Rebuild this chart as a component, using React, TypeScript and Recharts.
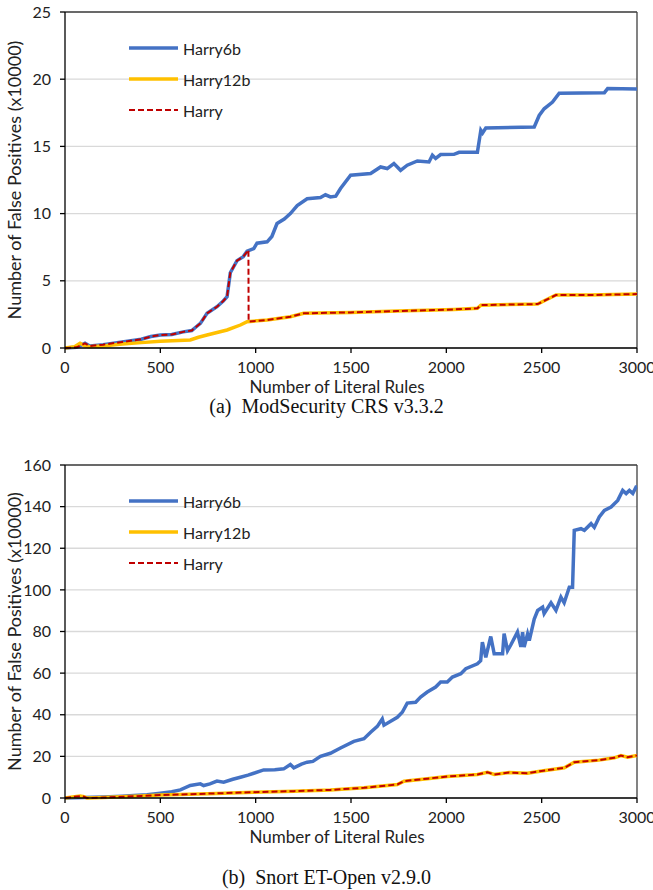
import React from 'react';
import { LineChart, Line, XAxis, YAxis, CartesianGrid, ReferenceLine } from 'recharts';

// x: number of literal rules, y: false positives (x10000)
const ruleTicks = [0, 500, 1000, 1500, 2000, 2500, 3000];

// (a) ModSecurity CRS v3.3.2
const modTicks = [0, 5, 10, 15, 20, 25];
const mod6bX = [0, 60, 105, 130, 200, 300, 400, 450, 500, 560, 620, 665, 690, 710, 745, 797, 830, 850, 867, 902, 935, 955, 990, 1007, 1060, 1085, 1112, 1150, 1182, 1218, 1270, 1340, 1366, 1392, 1420, 1445, 1498, 1603, 1655, 1690, 1725, 1760, 1795, 1848, 1909, 1927, 1944, 1970, 2040, 2067, 2163, 2181, 2190, 2207, 2461, 2487, 2513, 2557, 2592, 2829, 2846, 3000];
const mod6bY = [0, 0.05, 0.35, 0.15, 0.25, 0.45, 0.65, 0.85, 0.97, 1.0, 1.2, 1.3, 1.6, 1.83, 2.58, 3.07, 3.5, 3.81, 5.6, 6.5, 6.8, 7.2, 7.4, 7.8, 7.9, 8.3, 9.26, 9.6, 10.0, 10.6, 11.1, 11.2, 11.4, 11.24, 11.3, 11.87, 12.85, 12.98, 13.47, 13.35, 13.72, 13.22, 13.6, 13.92, 13.84, 14.34, 14.1, 14.39, 14.41, 14.56, 14.56, 16.2, 16.0, 16.37, 16.44, 17.3, 17.8, 18.3, 18.95, 19.0, 19.3, 19.27];
const mod12bX = [0, 50, 79, 100, 123, 200, 300, 400, 500, 657, 700, 745, 850, 920, 955, 1060, 1182, 1252, 1498, 1743, 2040, 2163, 2181, 2479, 2575, 2750, 3000];
const mod12bY = [0, 0.1, 0.35, 0.2, 0.1, 0.15, 0.3, 0.4, 0.5, 0.6, 0.8, 0.97, 1.34, 1.71, 1.96, 2.08, 2.33, 2.58, 2.65, 2.75, 2.87, 2.95, 3.19, 3.27, 3.94, 3.94, 4.01];
const modHarryX = [0, 60, 105, 130, 200, 300, 400, 450, 500, 560, 620, 665, 690, 710, 745, 797, 830, 850, 867, 902, 935, 962, 963, 1060, 1182, 1252, 1498, 1743, 2040, 2163, 2181, 2479, 2575, 2750, 3000];
const modHarryY = [0, 0.05, 0.35, 0.15, 0.25, 0.45, 0.65, 0.85, 0.97, 1.0, 1.2, 1.3, 1.6, 1.83, 2.58, 3.07, 3.5, 3.81, 5.6, 6.5, 6.8, 7.3, 1.96, 2.08, 2.33, 2.58, 2.65, 2.75, 2.87, 2.95, 3.19, 3.27, 3.94, 3.94, 4.01];

// (b) Snort ET-Open v2.9.0
const snortTicks = [0, 20, 40, 60, 80, 100, 120, 140, 160];
const snort6bX = [0, 100, 200, 300, 360, 430, 500, 560, 605, 657, 710, 727, 760, 797, 832, 880, 920, 960, 990, 1042, 1100, 1147, 1182, 1200, 1240, 1270, 1300, 1340, 1392, 1445, 1515, 1568, 1603, 1638, 1664, 1673, 1743, 1769, 1795, 1839, 1865, 1900, 1944, 1970, 2005, 2032, 2076, 2102, 2163, 2180, 2189, 2207, 2233, 2251, 2295, 2303, 2321, 2338, 2373, 2391, 2400, 2408, 2426, 2435, 2461, 2479, 2505, 2513, 2549, 2575, 2601, 2618, 2645, 2662, 2671, 2706, 2724, 2759, 2776, 2802, 2829, 2864, 2899, 2925, 2943, 2960, 2978, 2995, 3000];
const snort6bY = [0, 0.3, 0.5, 0.9, 1.2, 1.6, 2.3, 3.0, 3.9, 6.0, 6.8, 6.0, 6.8, 8.1, 7.6, 9.0, 10, 11, 11.9, 13.5, 13.6, 14, 16.1, 14.5, 16.3, 17.2, 17.6, 20.0, 21.5, 24, 27.2, 28.5, 31.6, 34.4, 38, 35, 38.8, 41.2, 45.6, 46, 48.5, 50.9, 53.3, 55.7, 55.7, 58.1, 59.7, 62.1, 64.5, 66, 74.9, 67.6, 77.6, 69.3, 69.3, 79, 70.8, 73.5, 79.7, 72.6, 79.7, 72.5, 78.8, 75.6, 86, 90.1, 91.7, 88.6, 93.8, 90.1, 96.5, 93.8, 101.3, 101.3, 128.6, 129.4, 128.6, 131.8, 130, 135, 138.2, 139.8, 143, 147.8, 146.3, 147.8, 146.3, 149.4, 149.4];
const snort12bX = [0, 40, 79, 100, 115, 200, 300, 400, 500, 750, 990, 1200, 1392, 1568, 1743, 1778, 1900, 2005, 2163, 2216, 2251, 2330, 2426, 2500, 2619, 2671, 2800, 2881, 2916, 2951, 3000];
const snort12bY = [0, 0.5, 0.9, 0.6, 0, 0.2, 0.6, 1.0, 1.4, 2.1, 2.8, 3.3, 3.9, 4.9, 6.5, 8.1, 9.3, 10.3, 11.3, 12.4, 11.3, 12.2, 11.9, 13.0, 14.5, 17.2, 18.2, 19.3, 20.4, 19.6, 20.4];
// Harry matches Harry12b on Snort
const snortHarryX = snort12bX;
const snortHarryY = snort12bY;

const zip = (xs: number[], ys: number[]) => xs.map((x, i) => ({ x, y: ys[i] }));

const BLUE = '#4472C4';
const YELLOW = '#FFC000';
const RED = '#C00000';
const SANS = 'Lato, "Open Sans", sans-serif';

const legendItems = [
  { name: 'Harry6b', color: BLUE, width: 3.5, dash: undefined },
  { name: 'Harry12b', color: YELLOW, width: 3.5, dash: undefined },
  { name: 'Harry', color: RED, width: 2, dash: '6 3' },
];

const LegendBox = () => (
  <div style={{ position: 'absolute', left: 129, top: 32.5, fontFamily: SANS, fontSize: 16, color: '#222' }}>
    {legendItems.map((item) => (
      <div key={item.name} style={{ display: 'flex', alignItems: 'center', height: 31 }}>
        <svg width={54} height={10} style={{ display: 'block' }}>
          <line x1={0} x2={49} y1={5} y2={5} stroke={item.color} strokeWidth={item.width} strokeDasharray={item.dash} />
        </svg>
        <span>{item.name}</span>
      </div>
    ))}
  </div>
);

interface PanelProps {
  top: number;
  height: number;
  yMax: number;
  yTicks: number[];
  d6b: { x: number; y: number }[];
  d12b: { x: number; y: number }[];
  dHarry: { x: number; y: number }[];
  caption: string;
  captionTop: number;
}

const Panel: React.FC<PanelProps> = ({ top, height, yMax, yTicks, d6b, d12b, dHarry, caption, captionTop }) => (
  <>
    <div style={{ position: 'absolute', left: 0, top, width: 653, height }}>
      <LineChart width={653} height={height} margin={{ top: 12, right: 16, left: 0, bottom: 0 }}>
        <CartesianGrid vertical={false} stroke="#d9d9d9" strokeWidth={1.3} />
        <XAxis
          dataKey="x"
          type="number"
          domain={[0, 3000]}
          ticks={ruleTicks}
          allowDuplicatedCategory={false}
          height={52}
          stroke="#000"
          strokeWidth={1.3}
          tickSize={5}
          tickMargin={9}
          tick={{ fill: '#222', fontSize: 16, fontFamily: SANS }}
          label={{ value: 'Number of Literal Rules', position: 'insideBottom', offset: 7, dx: -14, fill: '#222', fontSize: 17, fontFamily: SANS }}
        />
        <YAxis
          type="number"
          domain={[0, yMax]}
          ticks={yTicks}
          width={65}
          stroke="#000"
          strokeWidth={1.3}
          tickSize={5}
          tickMargin={9}
          tick={{ fill: '#222', fontSize: 16, fontFamily: SANS }}
          label={{ value: 'Number of False Positives (x10000)', angle: -90, position: 'insideLeft', offset: 15, style: { textAnchor: 'middle' }, fill: '#222', fontSize: 18, fontFamily: SANS }}
        />
        <ReferenceLine y={yMax} stroke="#404040" strokeWidth={1.3} />
        <ReferenceLine x={3000} stroke="#404040" strokeWidth={1.3} />
        <Line data={d6b} dataKey="y" name="Harry6b" type="linear" stroke={BLUE} strokeWidth={3.5} dot={false} isAnimationActive={false} />
        <Line data={d12b} dataKey="y" name="Harry12b" type="linear" stroke={YELLOW} strokeWidth={3.5} dot={false} isAnimationActive={false} />
        <Line data={dHarry} dataKey="y" name="Harry" type="linear" stroke={RED} strokeWidth={2} strokeDasharray="6 3" dot={false} isAnimationActive={false} />
      </LineChart>
      <LegendBox />
    </div>
    <div
      style={{
        position: 'absolute',
        left: 0,
        width: 653,
        top: captionTop,
        textAlign: 'center',
        fontFamily: '"Liberation Serif", "Times New Roman", serif',
        fontSize: 20,
        lineHeight: '20px',
        color: '#111',
        whiteSpace: 'pre',
      }}
    >
      {caption}
    </div>
  </>
);

export default function App() {
  return (
    <div style={{ position: 'absolute', left: 0, top: 0, width: 653, height: 890, background: '#fff' }}>
      <Panel
        top={0}
        height={400}
        yMax={25}
        yTicks={modTicks}
        d6b={zip(mod6bX, mod6bY)}
        d12b={zip(mod12bX, mod12bY)}
        dHarry={zip(modHarryX, modHarryY)}
        caption="(a)  ModSecurity CRS v3.3.2"
        captionTop={396}
      />
      <Panel
        top={453}
        height={397}
        yMax={160}
        yTicks={snortTicks}
        d6b={zip(snort6bX, snort6bY)}
        d12b={zip(snort12bX, snort12bY)}
        dHarry={zip(snortHarryX, snortHarryY)}
        caption="(b)  Snort ET-Open v2.9.0"
        captionTop={867}
      />
    </div>
  );
}
